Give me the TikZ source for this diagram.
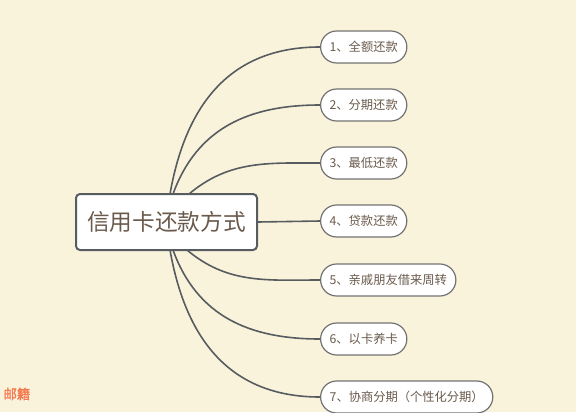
\documentclass[tikz,border=0pt]{standalone}
\usepackage{fontspec}
\setmainfont{Noto Sans CJK SC}
\newfontfamily\markfont[FakeBold=2.5]{Noto Sans CJK SC}
\usetikzlibrary{shapes.misc}
\definecolor{paper}{HTML}{FAF3DC}
\definecolor{ink}{HTML}{6A5A4C}
\definecolor{wire}{HTML}{565C5F}
\definecolor{rim}{HTML}{727272}
\definecolor{stamp}{HTML}{F47B4C}

\begin{document}
\begin{tikzpicture}[x=0.75pt, y=0.75pt,
	root/.style={draw=wire, line width=1.5pt, fill=white, rounded corners=3pt,
		minimum width=135.75pt, minimum height=42pt, inner sep=0pt,
		text=ink, font=\fontsize{17}{17}\selectfont},
	leaf/.style={draw=rim, line width=0.9pt, fill=white, rounded rectangle,
		minimum height=24pt, inner xsep=6pt, anchor=west,
		text=ink, font=\fontsize{9.2}{10}\selectfont},
	branch/.style={draw=wire, line width=1.2pt}]
	\fill[paper] (0,0) rectangle (576,-412);
	\useasboundingbox (0,0) rectangle (576,-412);
	\node[root] (c) at (166.5,-222) {信用卡还款方式};
	\node[leaf] (n1) at (320,-47) {1、全额还款};
	\node[leaf] (n2) at (320,-105) {2、分期还款};
	\node[leaf] (n3) at (320,-163) {3、最低还款};
	\node[leaf] (n4) at (320,-221) {4、贷款还款};
	\node[leaf] (n5) at (320,-280) {5、亲戚朋友借来周转};
	\node[leaf] (n6) at (320,-339) {6、以卡养卡};
	\node[leaf] (n7) at (320,-397) {7、协商分期（个性化分期）};
	\coordinate (t1) at (170,-194);
	\coordinate (t2) at (173,-194);
	\coordinate (t3) at (189,-194);
	\coordinate (b5) at (187,-250);
	\coordinate (b6) at (173,-250);
	\coordinate (b7) at (170,-250);
	\draw[branch] (t1) to[out=80, in=180, looseness=1.1] (n1.west);
	\draw[branch] (t2) to[out=70, in=180, looseness=1.05] (n2.west);
	\draw[branch] (t3) to[out=40, in=180] (n3.west);
	\draw[branch] (c.east) -- (n4.west);
	\draw[branch] (b5) to[out=-40, in=180] (n5.west);
	\draw[branch] (b6) to[out=-70, in=180, looseness=1.05] (n6.west);
	\draw[branch] (b7) to[out=-80, in=180, looseness=1.1] (n7.west);
	\node[text=white, font=\markfont\fontsize{10}{10}\selectfont, inner sep=1pt] at (17.6,-394.6) {邮籍};
	\node[text=stamp, font=\markfont\fontsize{10}{10}\selectfont, inner sep=1pt] (wm) at (17,-394) {邮籍};
\end{tikzpicture}
\end{document}
